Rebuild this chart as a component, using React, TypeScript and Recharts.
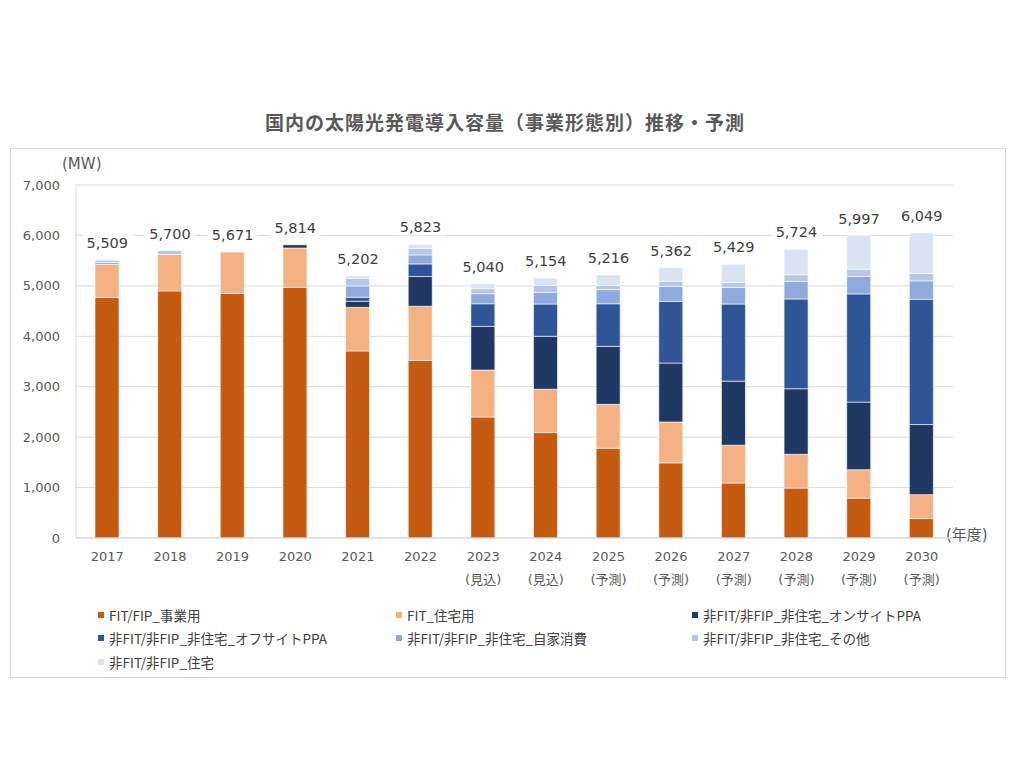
import {
  Bar,
  CartesianGrid,
  ComposedChart,
  Legend,
  Line,
  XAxis,
  YAxis,
} from "recharts";

// years and sub-labels on the category axis
const YEARS = ["2017", "2018", "2019", "2020", "2021", "2022", "2023", "2024", "2025", "2026", "2027", "2028", "2029", "2030"];
const SUBS = ["", "", "", "", "", "", "(見込)", "(見込)", "(予測)", "(予測)", "(予測)", "(予測)", "(予測)", "(予測)"];

// MW
const JIGYO = [4770, 4900, 4850, 4970, 3710, 3520, 2400, 2090, 1780, 1490, 1090, 990, 790, 385];
const JUTAKU_FIT = [656, 724, 821, 780, 864, 1075, 930, 860, 870, 810, 750, 670, 565, 475];
const ONSITE = [0, 0, 0, 64, 120, 590, 865, 1050, 1150, 1170, 1270, 1300, 1340, 1390];
const OFFSITE = [0, 0, 0, 0, 80, 250, 450, 640, 845, 1220, 1530, 1780, 2145, 2485];
const JIKA = [40, 0, 0, 0, 225, 180, 200, 230, 280, 300, 330, 350, 345, 365];
const SONOTA = [43, 76, 0, 0, 150, 125, 100, 140, 85, 100, 95, 130, 145, 145];
const JUTAKU_NONFIT = [0, 0, 0, 0, 53, 83, 95, 144, 206, 272, 364, 504, 667, 804];
const TOTALS = [5509, 5700, 5671, 5814, 5202, 5823, 5040, 5154, 5216, 5362, 5429, 5724, 5997, 6049];

const Y_TICKS = [0, 1000, 2000, 3000, 4000, 5000, 6000, 7000];

const SERIES = [
  { key: "jigyo", name: "FIT/FIP_事業用", color: "#c55a11", values: JIGYO },
  { key: "jutakuFit", name: "FIT_住宅用", color: "#f4b183", values: JUTAKU_FIT },
  { key: "onsite", name: "非FIT/非FIP_非住宅_オンサイトPPA", color: "#1f3864", values: ONSITE },
  { key: "offsite", name: "非FIT/非FIP_非住宅_オフサイトPPA", color: "#2f5597", values: OFFSITE },
  { key: "jika", name: "非FIT/非FIP_非住宅_自家消費", color: "#8faadc", values: JIKA },
  { key: "sonota", name: "非FIT/非FIP_非住宅_その他", color: "#b4c7e7", values: SONOTA },
  { key: "jutakuNonFit", name: "非FIT/非FIP_住宅", color: "#dae3f3", values: JUTAKU_NONFIT },
];

const data = YEARS.map((year, i) => {
  const row: Record<string, string | number> = { year, sub: SUBS[i], total: TOTALS[i] };
  SERIES.forEach((s) => (row[s.key] = s.values[i]));
  return row;
});

const FONT = "'DejaVu Sans', 'Noto Sans CJK JP', sans-serif";
const JP = "'Noto Sans CJK JP', sans-serif";

const YearTick = ({ x, y, payload, index }: any) => (
  <g transform={`translate(${x},${y})`}>
    <text textAnchor="middle" fill="#595959" fontSize={13} fontFamily={FONT}>
      <tspan x={0} dy={15}>{payload.value}</tspan>
      {SUBS[index] && (
        <tspan x={0} dy={23}>{SUBS[index]}</tspan>
      )}
    </text>
  </g>
);

const TotalLabel = ({ x, y, value }: any) => {
  const txt = Number(value).toLocaleString("en-US");
  const w = txt.length * 8.6 + 8;
  return (
    <g>
      <rect x={x - w / 2} y={y - 26} width={w} height={17} fill="#fff" />
      <text x={x} y={y - 12} textAnchor="middle" fill="#404040" fontSize={14.5} fontFamily={FONT}>
        {txt}
      </text>
    </g>
  );
};

const LegendGrid = () => (
  <div
    style={{
      display: "grid",
      gridTemplateColumns: "298px 296px 280px",
      rowGap: 0,
      fontFamily: JP,
      fontSize: 13.5,
      color: "#404040",
    }}
  >
    {SERIES.map((s) => (
      <div key={s.key} style={{ display: "flex", alignItems: "center", height: 23.5, whiteSpace: "nowrap" }}>
        <span style={{ width: 6, height: 6, background: s.color, marginRight: 5, display: "inline-block" }} />
        <span>{s.name}</span>
      </div>
    ))}
  </div>
);

export default function App() {
  return (
    <div style={{ position: "absolute", left: 0, top: 0, width: 1024, height: 768, background: "#fff", fontFamily: FONT }}>
      <div
        style={{
          position: "absolute",
          left: 10,
          top: 148,
          width: 994,
          height: 528,
          border: "1px solid #d9d9d9",
        }}
      />
      <div
        style={{
          position: "absolute",
          left: 0,
          top: 109,
          width: 1010,
          textAlign: "center",
          fontFamily: JP,
          fontWeight: 700,
          fontSize: 19,
          letterSpacing: 1,
          lineHeight: "26px",
          color: "#595959",
        }}
      >
        国内の太陽光発電導入容量（事業形態別）推移・予測
      </div>
      <div style={{ position: "absolute", left: 62, top: 154, fontSize: 15, color: "#595959", lineHeight: "20px" }}>
        (MW)
      </div>
      <div style={{ position: "absolute", left: 946, top: 524, fontSize: 15, color: "#595959", lineHeight: "22px" }}>
        (年度)
      </div>
      <div style={{ position: "absolute", left: 0, top: 0 }}>
        <ComposedChart
          width={1024}
          height={768}
          data={data}
          margin={{ top: 185, right: 71, bottom: 180, left: 16 }}
          barSize={24}
        >
          <CartesianGrid stroke="#d9d9d9" vertical={false} />
          <XAxis
            dataKey="year"
            height={50}
            tickLine={false}
            axisLine={{ stroke: "#d9d9d9" }}
            tick={<YearTick />}
            interval={0}
          />
          <YAxis
            width={60}
            domain={[0, 7000]}
            ticks={Y_TICKS}
            tickLine={false}
            tickMargin={10}
            axisLine={{ stroke: "#d9d9d9" }}
            tick={{ fill: "#595959", fontSize: 13, fontFamily: FONT }}
            tickFormatter={(v: number) => v.toLocaleString("en-US")}
          />
          {SERIES.map((s) => (
            <Bar
              key={s.key}
              dataKey={s.key}
              name={s.name}
              stackId="a"
              fill={s.color}
              stroke="#ffffff"
              strokeWidth={0.6}
              isAnimationActive={false}
            />
          ))}
          <Line
            dataKey="total"
            stroke="none"
            dot={false}
            activeDot={false}
            legendType="none"
            label={<TotalLabel />}
            isAnimationActive={false}
          />
          <Legend
            layout="horizontal"
            verticalAlign="middle"
            align="center"
            wrapperStyle={{ left: 98, top: 603, width: 880 }}
            content={() => <LegendGrid />}
          />
        </ComposedChart>
      </div>
    </div>
  );
}
